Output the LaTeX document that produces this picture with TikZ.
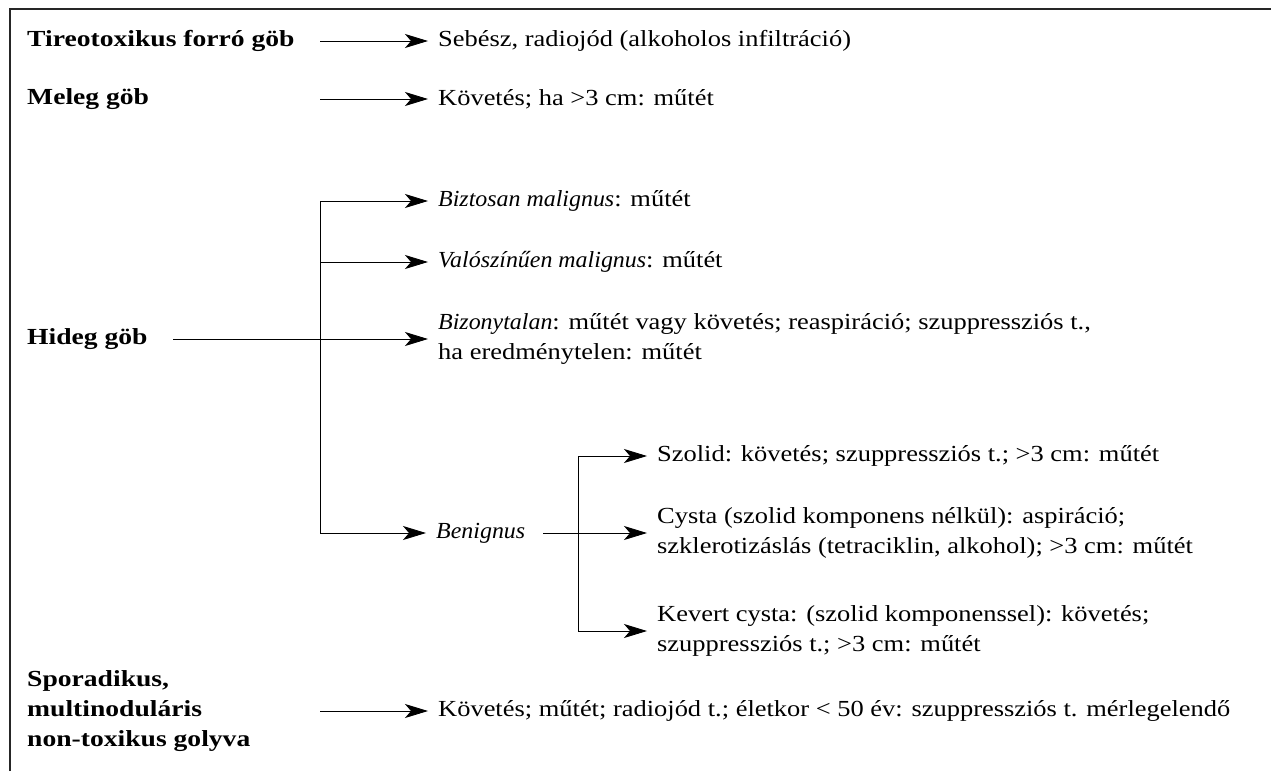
\documentclass[tikz,border=0pt]{standalone}
\usepackage{fontspec}
\setmainfont{Liberation Serif}[FakeStretch=1.15, BoldFeatures={FakeStretch=1.2}, ItalicFeatures={FakeStretch=1.04}]
\usetikzlibrary{arrows.meta}
\begin{document}
\begin{tikzpicture}[x=1pt,y=-1pt,
  every node/.style={font=\fontsize{23}{30}\selectfont},
  lab/.style={anchor=west, inner sep=0pt, font=\fontsize{23}{30}\selectfont\bfseries, align=left},
  res/.style={anchor=west, inner xsep=10pt, inner ysep=0pt, align=left, font=\fontsize{23}{30}\selectfont},
  arr/.style={-{Stealth[length=23pt,width=14pt,inset=6pt]}, line width=0.9pt},
  ln/.style={line width=0.9pt},
  frame/.style={line width=1.5pt, black!85}]
\useasboundingbox (0,0) rectangle (1271,771);
\coordinate (fb) at (10,771);
\coordinate (fc) at (10,9);
\coordinate (fr) at (1271,9);
\draw[frame] (fb) -- (fc) -- (fr);

% left labels
\node[lab] (tireo) at (27,41) {Tireotoxikus forró göb};
\node[lab] (meleg) at (27,99) {Meleg göb};
\node[lab] (hideg) at (27,339) {Hideg göb};
\node[lab] (spor) at (27,711) {Sporadikus,\\multinoduláris\\non-toxikus golyva};

% results
\node[res] (r1) at (428,41) {Sebész, radiojód (alkoholos infiltráció)};
\node[res] (r2) at (428,99) {Követés; ha >3 cm: műtét};
\node[res] (bizt) at (428,201) {\textit{Biztosan malignus}: műtét};
\node[res] (val) at (428,262) {\textit{Valószínűen malignus}: műtét};
\node[res] (bizon) at (428,339) {\textit{Bizonytalan}: műtét vagy követés; reaspiráció; szuppressziós t.,\\ha eredménytelen: műtét};
\node[res] (beni) at (426,533) {\textit{Benignus}};
\node[res] (szol) at (647,456) {Szolid: követés; szuppressziós t.; >3 cm: műtét};
\node[res] (cyst) at (647,533) {Cysta (szolid komponens nélkül): aspiráció;\\szklerotizáslás (tetraciklin, alkohol); >3 cm: műtét};
\node[res] (kev) at (647,631) {Kevert cysta: (szolid komponenssel): követés;\\szuppressziós t.; >3 cm: műtét};
\node[res] (r6) at (428,711) {Követés; műtét; radiojód t.; életkor < 50 év: szuppressziós t. mérlegelendő};

% arrow start points
\coordinate (a1) at (320,41);
\coordinate (a2) at (320,99);
\coordinate (h0) at (173,339);
\coordinate (a6) at (320,711);
\coordinate (b1t) at (320,201);
\coordinate (b1v) at (320,262);
\coordinate (b1b) at (320,533);
\coordinate (c0) at (543,533);
\coordinate (b2t) at (578,456);
\coordinate (b2b) at (578,631);

\draw[arr] (a1) -- (r1.west);
\draw[arr] (a2) -- (r2.west);
\draw[arr] (a6) -- (r6.west);
\draw[ln] (b1t) -- (b1b);
\draw[arr] (b1t) -- (bizt.west);
\draw[arr] (b1v) -- (val.west);
\draw[arr] (h0) -- (bizon.west);
\draw[arr] (b1b) -- (beni.west);
\draw[ln] (b2t) -- (b2b);
\draw[arr] (b2t) -- (szol.west);
\draw[arr] (c0) -- (cyst.west);
\draw[arr] (b2b) -- (kev.west);
\end{tikzpicture}
\end{document}
